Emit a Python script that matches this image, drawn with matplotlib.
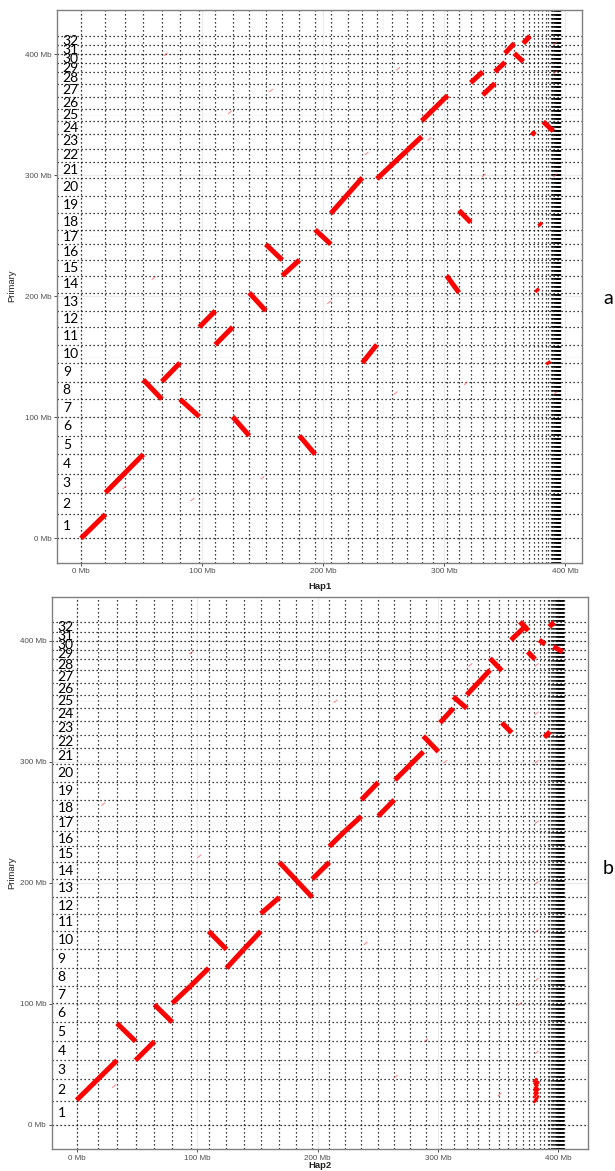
import matplotlib
matplotlib.use('Agg')
import matplotlib.pyplot as plt
from matplotlib.transforms import blended_transform_factory

# ---------------- data (Mb) ----------------
primary_bounds = [0, 19.8, 37.7, 53.3, 69.4, 84.8, 100.5, 115, 129.5, 145, 160, 174.5,
                  188, 203, 217, 230, 243, 255, 268.5, 283, 298, 311, 322, 334, 344.5,
                  355, 365, 375.5, 385, 392.5, 400, 407.5, 415]
chrom_labels = ['1', '2', '3', '4', '5', '6', '7', '8', '9', '10', '11', '12', '13', '14',
                '15', '16', '17', '18', '19', '20', '21', '22', '23', '24', '25', '26',
                '27', '28', '29', '30', '31', '32']

hap1_bounds = [0, 20.2, 36.4, 51.5, 66.8, 81.8, 97.8, 111, 125.3, 139, 152.7, 166.3,
               180.5, 193.5, 206.5, 220.5, 232.5, 244.5, 256.8, 269.2, 281.6, 291.2,
               302.2, 312.4, 322.1, 332, 342.1, 350.4, 358.1, 365.5, 370.5, 374.4,
               377.9, 381.2, 384.1, 386.2, 388.2, 389.0, 389.6, 390.1, 390.6, 391.0,
               391.4, 391.8, 392.2, 392.5, 392.8, 393.1, 393.4, 393.7, 394.0, 394.2,
               394.4, 394.6, 394.8, 395.0, 395.2, 395.4, 395.6, 395.8, 396.0]

hap2_bounds = [0, 17.8, 33.5, 48.9, 64.6, 79.4, 94.8, 109.6, 124.4, 138.7, 152.9, 168.3,
               182.2, 195.6, 209.8, 223.1, 236.4, 250.4, 263.7, 277, 289.8, 302.2,
               313.5, 323.9, 333.3, 342.2, 350.5, 357.9, 364.4, 370.4, 375.7, 380.1,
               384.3, 388.1, 391.1, 392.5, 393.6, 394.6, 395.5, 396.3, 397.0, 397.6,
               398.1, 398.6, 399.0, 399.4, 399.8, 400.2, 400.5, 400.8, 401.1, 401.4,
               401.7, 402.0, 402.3, 402.6, 402.9, 403.2, 403.5, 403.8, 404.1, 404.4]

# panel a alignments (Hap1 start, Hap1 end, Primary start, Primary end)
a_x0 = [0, 20.2, 51.5, 66.8, 81.8, 97.8, 111, 125.3, 139, 152.7, 166.3, 180.5, 193.5,
        206.5, 232.5, 244.5, 281.6, 302.2, 312.4, 322.1, 332, 342.1, 350.4, 358.1,
        365.5, 382.0, 372.5, 378.5, 376.0, 385.5]
a_x1 = [20.2, 51.5, 66.8, 81.8, 97.8, 111, 125.3, 139, 152.7, 166.3, 180.5, 193.5,
        206.5, 232.5, 244.5, 281.6, 303.0, 312.4, 322.1, 332, 342.1, 350.4, 358.1,
        365.5, 371.0, 390.3, 375.2, 380.5, 377.8, 387.0]
a_y0 = [0, 37.7, 131, 129.5, 115, 174.5, 160, 100.5, 203, 243, 217, 84.8, 255, 268.5,
        145, 297, 345, 217, 271, 376.5, 366.4, 385.6, 400.8, 400.8, 409, 344.3, 336,
        260.5, 206, 146]
a_y1 = [19.8, 69.4, 115, 145, 100.5, 188, 174.5, 84.8, 188, 230, 230, 69.4, 243, 298,
        160, 332, 366, 203, 261, 385.6, 376, 393.4, 409, 393.9, 415, 336.6, 333.3,
        258.5, 204, 144]

# panel b alignments (Hap2 start, Hap2 end, Primary start, Primary end)
b_x0 = [0, 33.5, 48.9, 64.6, 79.4, 94.8, 109.6, 124.4, 138.7, 152.9, 168.3, 195.6,
        209.8, 223.1, 236.4, 250.4, 264.3, 287.8, 301.7, 312.7, 323.9, 343.2, 353.0,
        360.6, 368.1, 374.5, 384.1, 388.3, 392.4, 395.8]
b_x1 = [33.5, 48.9, 64.6, 79.4, 94.8, 109.6, 124.4, 138.7, 152.9, 168.3, 195.6, 209.8,
        223.1, 236.4, 250.4, 263.7, 287.8, 300.3, 312.7, 323.9, 343.2, 353.0, 361.2,
        373.7, 375.0, 380.6, 388.9, 393.0, 396.4, 403.6]
b_y0 = [20.5, 84, 53.4, 99.4, 100.5, 115, 160, 129.5, 145, 174.5, 217, 203, 230, 243,
        268.5, 255, 284.9, 321.2, 332.2, 353.7, 355.2, 385.4, 332.2, 400.5, 415.6,
        390.8, 400.5, 320.2, 411.5, 395.0]
b_y1 = [53.4, 69, 69, 84.9, 115, 129.5, 145, 145, 160, 188, 188, 217, 243, 255, 283,
        268.5, 308.3, 308.3, 344.1, 344.1, 375.7, 375.2, 324.0, 412.9, 408.2, 384.6,
        397.0, 324.8, 415.1, 390.8]

# dense cluster of short alignments in panel b (x, y)
b_clu_x = [380.5, 381.2, 382.0, 381.5, 380.8, 382.4, 381.0, 381.8, 380.6, 382.2,
           381.4, 380.9, 381.7, 382.3]
b_clu_y = [37.0, 35.2, 33.5, 31.6, 30.0, 28.4, 27.0, 25.4, 24.0, 22.6, 21.2, 19.8,
           29.2, 34.3]

# faint short alignments (x, y centre)
a_faint_x = [36, 60, 92, 123, 157, 205, 236, 260, 288, 318, 333, 262, 70, 150, 392, 392,
             392, 392]
a_faint_y = [42, 215, 32, 352, 370, 195, 318, 120, 330, 128, 300, 388, 400, 50, 409,
             385, 300, 120]
b_faint_x = [22, 102, 31, 95, 215, 240, 265, 306, 290, 327, 351, 368, 382, 382, 382,
             382, 382, 382, 382, 382]
b_faint_y = [265, 222, 32, 390, 350, 150, 40, 300, 70, 380, 25, 100, 120, 200, 300,
             380, 60, 160, 250, 340]

ticks = [0, 100, 200, 300, 400]
tick_labels = ['0 Mb', '100 Mb', '200 Mb', '300 Mb', '400 Mb']

W, H = 615, 1171
fig = plt.figure(figsize=(W / 100, H / 100), dpi=100)


def frac(l, t, r, b):
    return [l / W, 1 - b / H, (r - l) / W, (b - t) / H]


def panel(rect, xlim, ylim, xb, yb, x0, x1, y0, y1, fx, fy):
    ax = fig.add_axes(rect)
    ax.set_xlim(*xlim)
    ax.set_ylim(*ylim)
    for v in ticks:
        ax.axvline(v, color='#EBEBEB', lw=0.9, zorder=0)
        ax.axhline(v, color='#EBEBEB', lw=0.9, zorder=0)
    for v in [50, 150, 250, 350]:
        ax.axvline(v, color='#F3F3F3', lw=0.5, zorder=0)
        ax.axhline(v, color='#F3F3F3', lw=0.5, zorder=0)
    for x in xb:
        ax.axvline(x, color='black', lw=0.9, ls=(0, (1, 2.2)), zorder=1)
    for y in yb:
        ax.axhline(y, color='black', lw=0.9, ls=(0, (1, 2.2)), zorder=1)
    for a, b in zip(fx, fy):
        ax.plot([a - 1.2, a + 1.2], [b - 1.0, b + 1.0], color='#ff4d4d', lw=0.7,
                alpha=0.7, zorder=2)
    for a, b, c, d in zip(x0, x1, y0, y1):
        ax.plot([a, b], [c, d], color='#ff0000', lw=3.6, solid_capstyle='butt', zorder=3)
    tr = blended_transform_factory(ax.transAxes, ax.transData)
    for i, lab in enumerate(chrom_labels):
        mid = (yb[i] + yb[i + 1]) / 2
        ax.text(0.011, mid, lab, transform=tr, ha='left', va='center', fontsize=10,
                family=['Lato', 'DejaVu Sans'], color='black', zorder=4)
    ax.set_xticks(ticks)
    ax.set_xticklabels(tick_labels)
    ax.set_yticks(ticks)
    ax.set_yticklabels(tick_labels)
    ax.tick_params(length=2.5, width=0.6, color='#333333', labelsize=5.8,
                   labelcolor='#4D4D4D', pad=1.5)
    for lab in ax.get_xticklabels() + ax.get_yticklabels():
        lab.set_family(['Liberation Sans', 'DejaVu Sans'])
    for s in ax.spines.values():
        s.set_color('#808080')
        s.set_linewidth(1.0)
    return ax


axa = panel(frac(57, 10, 582, 562.5), (-19.83, 414.05), (-20.0, 436.6),
            hap1_bounds, primary_bounds, a_x0, a_x1, a_y0, a_y1, a_faint_x, a_faint_y)
axb = panel(frac(51.7, 597.3, 588.3, 1149.3), (-20.7, 424.8), (-20.1, 435.8),
            hap2_bounds, primary_bounds, b_x0, b_x1, b_y0, b_y1, b_faint_x, b_faint_y)
for cx, cy in zip(b_clu_x, b_clu_y):
    axb.plot([cx - 1.0, cx + 1.0], [cy - 0.9, cy + 0.9], color='#ff0000', lw=1.6,
             zorder=3)

fig.text(320 / W, 1 - 586 / H, 'Hap1', ha='center', va='center', fontsize=6.8,
         fontweight='bold', family=['Liberation Sans', 'DejaVu Sans'], color='#222222')
fig.text(320 / W, 1 - 1165 / H, 'Hap2', ha='center', va='center', fontsize=6.8,
         fontweight='bold', family=['Liberation Sans', 'DejaVu Sans'], color='#222222')
fig.text(12 / W, 1 - 286 / H, 'Primary', ha='center', va='center', rotation=90,
         fontsize=6.8, family=['Liberation Sans', 'DejaVu Sans'], color='#222222')
fig.text(12 / W, 1 - 873 / H, 'Primary', ha='center', va='center', rotation=90,
         fontsize=6.8, family=['Liberation Sans', 'DejaVu Sans'], color='#222222')
fig.text(608 / W, 1 - 298 / H, 'a', ha='center', va='center', fontsize=14,
         family=['Lato', 'DejaVu Sans'])
fig.text(608 / W, 1 - 868 / H, 'b', ha='center', va='center', fontsize=14,
         family=['Lato', 'DejaVu Sans'])

fig.savefig('out.png', dpi=100)
